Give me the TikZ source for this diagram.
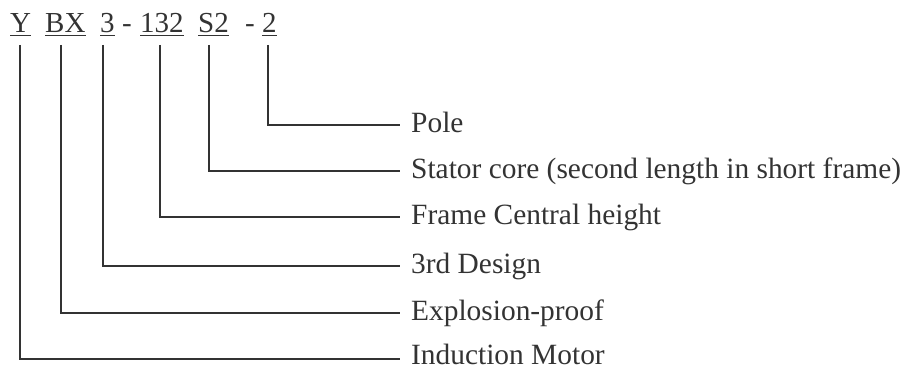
\documentclass[tikz,border=0pt]{standalone}
\usepackage{fontspec}
\setmainfont{Liberation Serif}
\definecolor{ink}{HTML}{333333}
\begin{document}
\begin{tikzpicture}[x=1pt,y=-1pt,
  part/.style={anchor=base west,inner sep=0pt,text=ink,font=\fontsize{29}{34}\selectfont},
  lab/.style={anchor=base west,inner sep=0pt,text=ink,font=\fontsize{29.4}{34}\selectfont},
  uline/.style={draw=ink,line width=1.2pt},
  lead/.style={draw=ink,line width=1.2pt}]
\useasboundingbox (0,0) rectangle (905,369);
% code parts
\node[part] (pY) at (10,33) {Y};
\node[part] (pBX) at (45,33) {BX};
\node[part] (p3) at (100,33) {3};
\node[part] (h1) at (122,33) {-};
\node[part] (p132) at (140,33) {132};
\node[part] (pS2) at (198,33) {S2};
\node[part] (h2) at (245,33) {-};
\node[part] (p2) at (262,33) {2};
\foreach \n in {pY,pBX,p3,p132,pS2,p2}
  \draw[uline] ([yshift=-2.8pt]\n.base west) -- ([yshift=-2.8pt]\n.base east);
% leader start points
\coordinate (tY) at (20,45);
\coordinate (tBX) at (61,45);
\coordinate (t3) at (103,45);
\coordinate (t132) at (160,45);
\coordinate (tS2) at (209,45);
\coordinate (t2) at (268,45);
% leader end points
\coordinate (e2) at (400,125);
\coordinate (eS2) at (400,171);
\coordinate (e132) at (400,217);
\coordinate (e3) at (400,266);
\coordinate (eBX) at (400,313);
\coordinate (eY) at (400,359);
% labels
\node[lab] (l2) at (411,132) {Pole};
\node[lab] (lS2) at (411,178) {Stator core (second length in short frame)};
\node[lab] (l132) at (411,224) {Frame Central height};
\node[lab] (l3) at (411,273) {3rd Design};
\node[lab] (lBX) at (411,320) {Explosion-proof};
\node[lab] (lY) at (411,364) {Induction Motor};
% leaders
\foreach \n in {Y,BX,3,132,S2,2}
  \draw[lead] (t\n) |- (e\n);
\end{tikzpicture}
\end{document}
